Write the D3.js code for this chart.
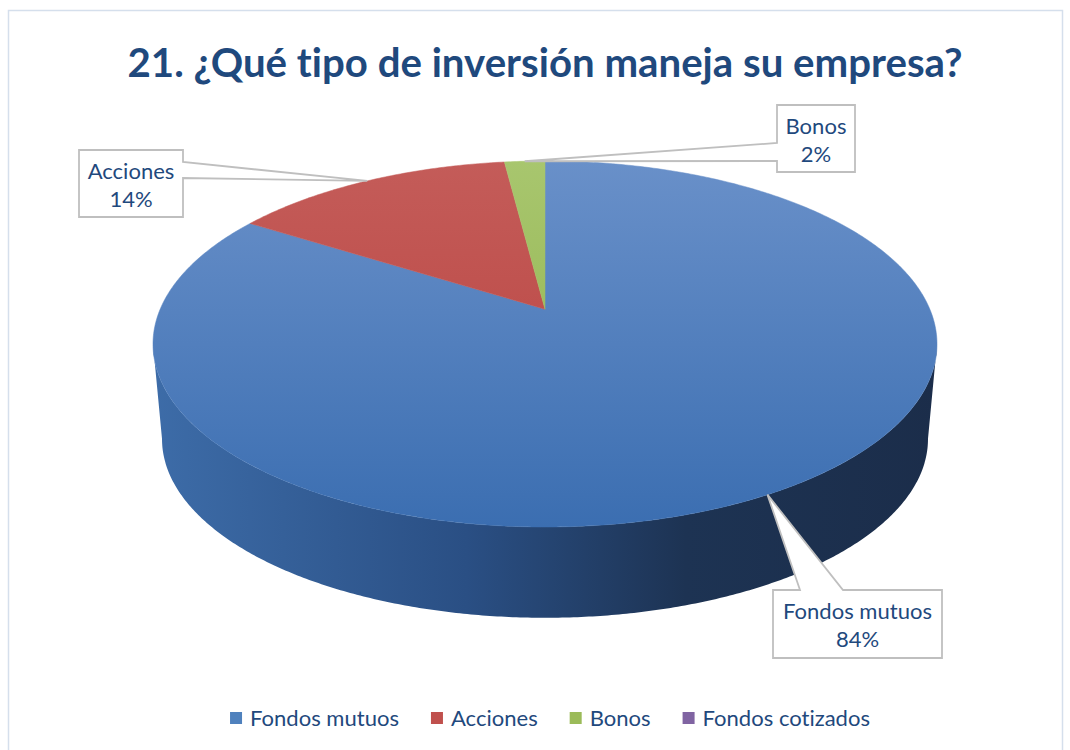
<!DOCTYPE html>
<html>
<head>
<meta charset="utf-8">
<script src="https://cdn.jsdelivr.net/npm/d3@7"></script>
<style>
  body { margin: 0; background: #fff; }
  svg { display: block; }
  text { font-variant-ligatures: none; }
</style>
</head>
<body>
<div class="chart-holder"></div>
<script>
let categories = ['Fondos mutuos', 'Acciones', 'Bonos', 'Fondos cotizados']
let values = [84, 14, 2, 0]
let title = '21. ¿Qué tipo de inversión maneja su empresa?'

let width = 1070, height = 750
let textColor = '#1F497D'
let fontFamily = 'Lato, "Open Sans", sans-serif'

// colours: legend / top face gradient (top, bottom) / side gradient
let baseColors = ['#4F81BD', '#C0504D', '#9BBB59', '#8064A2']
let topColors = [['#6990C9', '#3B6EB1'], ['#C45C59', '#B8403D'], ['#A8C66E', '#8DAF48'], ['#9680B8', '#6F5292']]
let sideColors = [
    ['#3D6CA8', '#2A4F84', '#1D3353', '#1B2D4A'],
    ['#A8403D', '#84302E', '#5E201F', '#541c1b'],
    ['#86A54A', '#6A853A', '#4B5F29', '#435524'],
    ['#6D5590', '#564372', '#3D3052', '#372b4a']
]

// ellipse of the top face, tilt = how far the centre sits behind the ellipse middle
let pie3d = { cx: 545, cy: 344, rx: 392, ry: 183, tilt: 0.19, depth: 95, shrink: 0.977 }

// callout boxes, tips come from the slices
let callouts = {
    'Acciones': { x: 79, y: 150, w: 104, h: 67, side: 'right', base: [162, 178] },
    'Bonos': { x: 777, y: 105, w: 78, h: 67, side: 'left', base: [143, 161] },
    'Fondos mutuos': { x: 773, y: 590, w: 169, h: 68, side: 'top', base: [800, 843] }
}

let svg = d3.select('.chart-holder')
    .append('svg')
        .attr('width', width)
        .attr('height', height)

svg.append('rect')
    .attr('x', 8.5).attr('y', 10.5)
    .attr('width', 1054).attr('height', 760)
    .attr('fill', 'none')
    .attr('stroke', '#D5DFEC')
    .attr('stroke-width', 1.5)

function measure(text, weight, size){
    let t = svg.append('text')
        .attr('font-family', fontFamily)
        .attr('font-weight', weight)
        .attr('font-size', size)
        .text(text)
    let w = t.node().getComputedTextLength()
    t.remove()
    return w
}
function fitSize(text, weight, target){
    return 100 * target / measure(text, weight, 100)
}

let titleSize = fitSize(title, 'bold', 835)
let labelSize = fitSize('Fondos mutuos', 'normal', 149)

svg.append('text')
    .attr('x', 545).attr('y', 77)
    .attr('text-anchor', 'middle')
    .attr('font-family', fontFamily)
    .attr('font-weight', 'bold')
    .attr('font-size', titleSize)
    .attr('fill', textColor)
    .text(title)

// gradients
let defs = svg.append('defs')
categories.forEach((c, i) => {
    let gTop = defs.append('linearGradient')
        .attr('id', 'top' + i)
        .attr('gradientUnits', 'userSpaceOnUse')
        .attr('x1', 0).attr('x2', 0)
        .attr('y1', pie3d.cy - pie3d.ry).attr('y2', pie3d.cy + pie3d.ry)
    gTop.append('stop').attr('offset', '0%').attr('stop-color', topColors[i][0])
    gTop.append('stop').attr('offset', '100%').attr('stop-color', topColors[i][1])

    let gSide = defs.append('linearGradient')
        .attr('id', 'side' + i)
        .attr('gradientUnits', 'userSpaceOnUse')
        .attr('y1', 0).attr('y2', 0)
        .attr('x1', pie3d.cx - pie3d.rx).attr('x2', pie3d.cx + pie3d.rx)
    let offs = ['0%', '40%', '68%', '100%']
    sideColors[i].forEach((col, k) => {
        gSide.append('stop').attr('offset', offs[k]).attr('stop-color', col)
    })
})

let total = d3.sum(values)
let arcs = d3.pie().sort(null).startAngle(0).endAngle(2 * Math.PI)(values)
let pct = d3.format('.0%')

// perspective: slice angle -> angle on the drawn ellipse
function warp(a){
    let b = pie3d.tilt, u = Math.sin(a), v = Math.cos(a), k = 1 + b * v
    let phi = Math.atan2(u * Math.sqrt(1 - b * b) / k, (v + b) / k)
    return phi < 0 ? phi + 2 * Math.PI : phi
}
function topPoint(phi){
    return [pie3d.cx + pie3d.rx * Math.sin(phi), pie3d.cy - pie3d.ry * Math.cos(phi)]
}
function bottomPoint(phi){
    return [pie3d.cx + pie3d.rx * pie3d.shrink * Math.sin(phi),
            pie3d.cy + pie3d.depth - pie3d.ry * pie3d.shrink * Math.cos(phi)]
}
let apex = [pie3d.cx, pie3d.cy - pie3d.tilt * pie3d.ry]
let line = d3.line()

// outer wall, only the front half shows
let sides = svg.append('g').attr('class', 'sides')
arcs.forEach((d, i) => {
    if (d.endAngle - d.startAngle <= 0) return
    let p0 = warp(d.startAngle)
    let p1 = d.endAngle >= 2 * Math.PI - 1e-9 ? 2 * Math.PI : warp(d.endAngle)
    if (p1 < p0) p1 += 2 * Math.PI
    let lo = Math.max(p0, Math.PI / 2), hi = Math.min(p1, 3 * Math.PI / 2)
    if (hi <= lo) return
    let n = Math.max(2, Math.ceil((hi - lo) / 0.01))
    let pts = d3.range(n + 1).map(j => topPoint(lo + (hi - lo) * j / n))
    let back = d3.range(n + 1).map(j => bottomPoint(hi - (hi - lo) * j / n))
    sides.append('path')
        .attr('d', line(pts.concat(back)) + 'Z')
        .attr('fill', 'url(#side' + i + ')')
})

// top face
let tops = svg.append('g').attr('class', 'tops')
arcs.forEach((d, i) => {
    if (d.endAngle - d.startAngle <= 0) return
    let n = Math.max(2, Math.ceil((d.endAngle - d.startAngle) / 0.01))
    let pts = [apex].concat(d3.range(n + 1).map(j =>
        topPoint(warp(d.startAngle + (d.endAngle - d.startAngle) * j / n))))
    tops.append('path')
        .attr('d', line(pts) + 'Z')
        .attr('fill', 'url(#top' + i + ')')
        .attr('stroke', 'url(#top' + i + ')')
        .attr('stroke-width', 0.5)
})

// callouts
function calloutPath(b, tip){
    let x = b.x, y = b.y, r = b.x + b.w, btm = b.y + b.h
    if (b.side === 'right')
        return `M${x},${y}H${r}V${b.base[0]}L${tip[0]},${tip[1]}L${r},${b.base[1]}V${btm}H${x}Z`
    if (b.side === 'left')
        return `M${x},${y}H${r}V${btm}H${x}V${b.base[1]}L${tip[0]},${tip[1]}L${x},${b.base[0]}Z`
    return `M${x},${y}H${b.base[0]}L${tip[0]},${tip[1]}L${b.base[1]},${y}H${r}V${btm}H${x}Z`
}

let labels = svg.append('g').attr('class', 'labels')
arcs.forEach((d, i) => {
    let box = callouts[categories[i]]
    if (!box || d.value === 0) return
    let tip = topPoint(warp((d.startAngle + d.endAngle) / 2))
    labels.append('path')
        .attr('d', calloutPath(box, tip))
        .attr('fill', '#fff')
        .attr('stroke', '#BFBFBF')
        .attr('stroke-width', 1.8)
        .attr('stroke-linejoin', 'miter')
    let t = labels.append('text')
        .attr('text-anchor', 'middle')
        .attr('font-family', fontFamily)
        .attr('font-size', labelSize)
        .attr('fill', textColor)
    t.append('tspan').attr('x', box.x + box.w / 2).attr('y', box.y + 29).text(categories[i])
    t.append('tspan').attr('x', box.x + box.w / 2).attr('y', box.y + 57).text(pct(d.value / total))
})

// legend
let legend = svg.append('g').attr('class', 'legend')
let sq = 12, pad = 8, gap = 32
let itemWidths = categories.map(c => sq + pad + measure(c, 'normal', labelSize))
let legendWidth = d3.sum(itemWidths) + gap * (categories.length - 1)
let lx = 550 - legendWidth / 2
categories.forEach((c, i) => {
    let g = legend.append('g').attr('transform', 'translate(' + lx + ',718)')
    g.append('rect')
        .attr('x', 0).attr('y', -sq / 2)
        .attr('width', sq).attr('height', sq)
        .attr('fill', baseColors[i])
    g.append('text')
        .attr('x', sq + pad).attr('y', 0)
        .attr('dy', '0.35em')
        .attr('font-family', fontFamily)
        .attr('font-size', labelSize)
        .attr('fill', textColor)
        .text(c)
    lx += itemWidths[i] + gap
})
</script>
</body>
</html>
